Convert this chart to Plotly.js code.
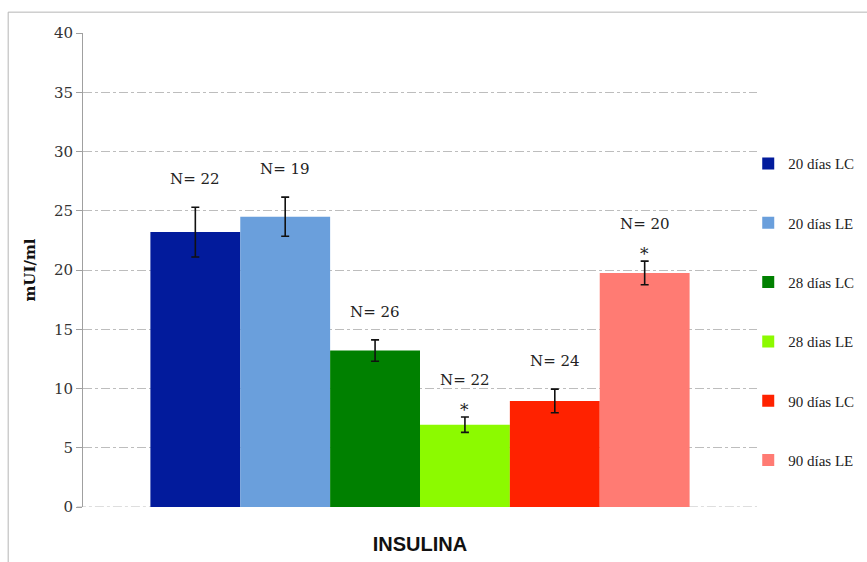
<!DOCTYPE html>
<html><head><meta charset="utf-8">
<script src="https://cdn.plot.ly/plotly-3.0.1.min.js"></script>
<style>html,body{margin:0;padding:0;background:#fff}#chart{width:867px;height:562px}</style>
</head><body><div id="chart"></div>
<script>
// Data
const groups = ["20 días LC","20 días LE","28 días LC","28 dias LE","90 días LC","90 días LE"];
const category = ["INSULINA"];
const means = [23.2, 24.5, 13.2, 6.95, 8.95, 19.75];
const errors = [2.1, 1.65, 0.9, 0.65, 1.0, 1.0];
const nLabels = ["N= 22","N= 19","N= 26","N= 22","N= 24","N= 20"];
const significant = [false, false, false, true, false, true];
const colors = ["#021B9C","#6A9FDC","#008000","#8CFA00","#FF2200","#FF7B73"];

const serif = "DejaVu Serif, Liberation Serif, serif";
const traces = groups.map((g,i)=>({
  type:"bar", name:g, x:category, y:[means[i]],
  marker:{color:colors[i]}, legendgroup:"g"+i,
  error_y:{type:"data", array:[errors[i]], visible:true, color:"#111", thickness:1.6, width:4},
  hoverinfo:"none"
}));

const n = groups.length, bargap = 0.2, gw = 1 - bargap;
const annotations = [];
groups.forEach((g,i)=>{
  const xc = -gw/2 + gw*(i+0.5)/n;
  const top = means[i] + errors[i];
  if (significant[i]) {
    annotations.push({x:xc, y:top, xref:"x", yref:"y", text:"*", showarrow:false,
      yanchor:"bottom", yshift:-5, font:{family:serif, size:17, color:"#222"}});
  }
  annotations.push({x:xc, y:top, xref:"x", yref:"y", text:nLabels[i], showarrow:false,
    yanchor:"bottom", yshift: significant[i] ? 26 : 17, font:{family:serif, size:15, color:"#222"}});
});

const layout = {
  width:867, height:562,
  margin:{l:83, r:110, t:33, b:55, autoexpand:false},
  paper_bgcolor:"#fff", plot_bgcolor:"#fff",
  barmode:"group", bargap:bargap, bargroupgap:0,
  showlegend:true,
  legend:{x:0.987, xanchor:"left", y:0.759, yanchor:"top",
    font:{family:"Liberation Serif, serif", size:15, color:"#222"},
    tracegroupgap:36.8, itemwidth:30, bgcolor:"rgba(0,0,0,0)"},
  xaxis:{type:"category", showgrid:false, showticklabels:false, zeroline:false, showline:false,
    range:[-0.5,0.5], fixedrange:true,
    title:{text:"<b>INSULINA</b>", font:{family:"Liberation Sans, Arial, sans-serif", size:20, color:"#111"}, standoff:29}},
  yaxis:{range:[0,40], dtick:5, tick0:0, showgrid:true, gridcolor:"#bdbdbd", griddash:"dashdot", gridwidth:1,
    showline:true, linecolor:"#a0a0a0", linewidth:1, ticks:"outside", ticklen:6, tickcolor:"#a0a0a0",
    zeroline:false, tickfont:{family:serif, size:15, color:"#333"},
    title:{text:"<b>mUI/ml</b>", font:{family:serif, size:15, color:"#111"}, standoff:14}},
  annotations:annotations,
  shapes:[
    {type:"line", xref:"paper", yref:"y", x0:-0.009, x1:1, y0:0, y1:0, line:{color:"#bdbdbd", width:1, dash:"dashdot"}, layer:"below"},
    {type:"rect", xref:"paper", yref:"paper", x0:-0.111, x1:1.3, y0:-0.3, y1:1.044, line:{color:"#b5b5b5", width:1}, fillcolor:"rgba(0,0,0,0)"}
  ]
};
Plotly.newPlot("chart", traces, layout, {displayModeBar:false, staticPlot:true});
</script></body></html>
